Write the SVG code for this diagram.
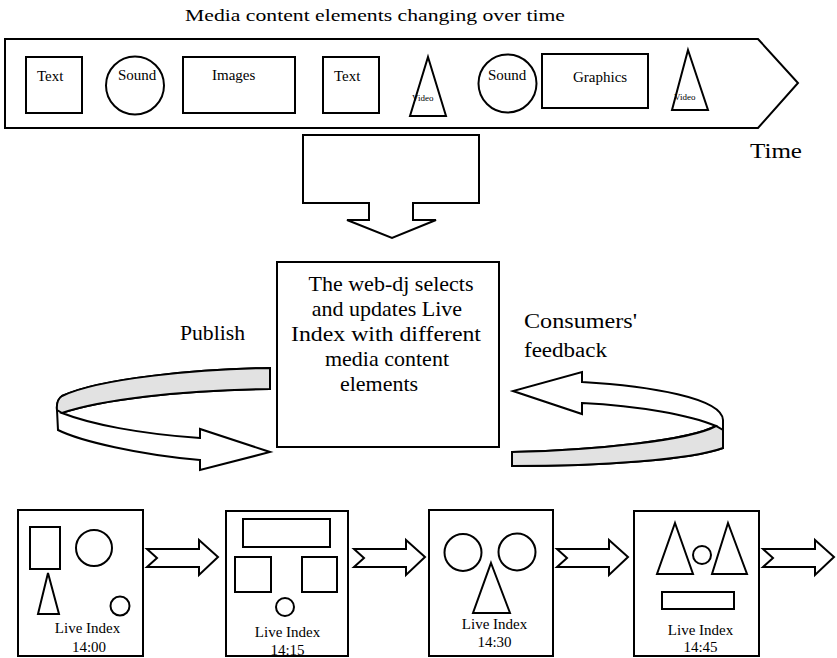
<svg xmlns="http://www.w3.org/2000/svg" width="837" height="658" viewBox="0 0 837 658">
<style>
.s{fill:#fff;stroke:#000;stroke-width:2;stroke-linejoin:miter}
.g{fill:#e2e2e2;stroke:#000;stroke-width:2}
.t{font-family:"Liberation Serif","Times New Roman",serif;fill:#000}
.c{text-anchor:middle}
</style>
<defs>
<path id="chev" d="M0,-8 L52,-8 L52,-17 L71,0 L52,18 L52,10 L0,10 L10,1 Z"/>
</defs>
<rect width="837" height="658" fill="#fff"/>
<text class="t" x="185" y="21" font-size="17" textLength="380" lengthAdjust="spacingAndGlyphs">Media content elements changing over time</text>

<g id="timeline">
<path class="s" d="M5,39 L758,39 L798,83 L758,128 L5,128 Z"/>
<rect class="s" x="26" y="57" width="56" height="56"/>
<text class="t" x="37" y="81" font-size="15">Text</text>
<circle class="s" cx="135" cy="85.5" r="29"/>
<text class="t" x="118" y="80" font-size="15">Sound</text>
<rect class="s" x="183" y="57" width="112" height="56"/>
<text class="t" x="212" y="80" font-size="15">Images</text>
<rect class="s" x="323" y="57" width="56" height="56"/>
<text class="t" x="334" y="81" font-size="15">Text</text>
<path class="s" d="M428,57 L446,116 L410,116 Z"/>
<text class="t" x="412" y="101" font-size="9">Video</text>
<circle class="s" cx="507.5" cy="83.5" r="29"/>
<text class="t" x="488" y="80" font-size="15">Sound</text>
<rect class="s" x="542" y="54" width="106" height="54"/>
<text class="t" x="573" y="82" font-size="15">Graphics</text>
<path class="s" d="M688,50 L708,110 L672,110 Z"/>
<text class="t" x="674" y="100" font-size="9">Video</text>
</g>
<text class="t" x="750" y="158" font-size="21" textLength="52" lengthAdjust="spacingAndGlyphs">Time</text>

<g id="down-arrow">
<path class="s" d="M303,135 L479,135 L479,203 L413,203 L413,220 L436,220 L392,238 L347,220 L369,220 L369,203 L303,203 Z"/>
</g>

<g id="webdj">
<rect class="s" x="277" y="262" width="222" height="185"/>
<text class="t c" x="391" y="291" font-size="22">The web-dj selects</text>
<text class="t c" x="387" y="316" font-size="22">and updates Live</text>
<text class="t c" x="386" y="341" font-size="22" textLength="190" lengthAdjust="spacingAndGlyphs">Index with different</text>
<text class="t c" x="387" y="366" font-size="22">media content</text>
<text class="t c" x="379" y="391" font-size="22">elements</text>
</g>

<g id="connectors">
<g id="publish">
<path class="s" d="M270,368 C200,369 100,378 62,396 Q56,400 57,410 L58,430 C80,441 140,455 200,460 L200,470 L270,452 L200,429 L200,438 C140,434 90,424 62,413 C100,400 180,390 270,389 Z"/>
<path class="g" d="M270,368 C200,369 100,378 62,396 Q56,400 57,410 L62,413 C100,400 180,390 270,389 Z"/>
</g>
<g id="feedback">
<path class="s" d="M582,382 C650,386 722,398 723,420 L723,448 C690,460 600,466 512,466 L512,452 C600,450 690,440 716,426 C690,415 640,406 582,403 L582,414 L513,391 L582,372 Z"/>
<path class="g" d="M716,426 C690,440 600,450 512,452 L512,466 C600,466 690,460 723,448 L723,430 Z"/>
</g>
<use href="#chev" class="s" x="147" y="557"/>
<use href="#chev" class="s" x="354" y="557"/>
<use href="#chev" class="s" x="557" y="557"/>
<use href="#chev" class="s" x="763" y="557"/>
</g>
<text class="t" x="180" y="340" font-size="20" textLength="65" lengthAdjust="spacingAndGlyphs">Publish</text>
<text class="t" x="524" y="328" font-size="20" textLength="113" lengthAdjust="spacingAndGlyphs">Consumers'</text>
<text class="t" x="524" y="357" font-size="20" textLength="83" lengthAdjust="spacingAndGlyphs">feedback</text>

<g id="index1400">
<rect class="s" x="18" y="510" width="125" height="146"/>
<rect class="s" x="30" y="527" width="30" height="42"/>
<circle class="s" cx="94" cy="548" r="18"/>
<path class="s" d="M48,573 L59,614 L38,614 Z"/>
<circle class="s" cx="120" cy="606" r="9.5"/>
<text class="t c" x="87.5" y="633" font-size="15">Live Index</text>
<text class="t c" x="89" y="652" font-size="15">14:00</text>
</g>
<g id="index1415">
<rect class="s" x="226" y="511" width="122" height="145"/>
<rect class="s" x="243" y="519" width="87" height="28"/>
<rect class="s" x="235" y="557" width="36" height="35"/>
<rect class="s" x="302" y="557" width="35" height="35"/>
<circle class="s" cx="285" cy="607" r="9"/>
<text class="t c" x="287.5" y="637" font-size="15">Live Index</text>
<text class="t c" x="287.5" y="655" font-size="15">14:15</text>
</g>
<g id="index1430">
<rect class="s" x="429" y="510" width="124" height="146"/>
<circle class="s" cx="463" cy="552.5" r="18.5"/>
<circle class="s" cx="517" cy="552" r="18.5"/>
<path class="s" d="M491,563 L510,613 L473,613 Z"/>
<text class="t c" x="494.5" y="629" font-size="15">Live Index</text>
<text class="t c" x="494.5" y="647" font-size="15">14:30</text>
</g>
<g id="index1445">
<rect class="s" x="634" y="511" width="125" height="145"/>
<path class="s" d="M675,523 L693,574 L657,574 Z"/>
<circle class="s" cx="702" cy="555" r="9"/>
<path class="s" d="M728,523 L747,574 L712,574 Z"/>
<rect class="s" x="662" y="592" width="72" height="17"/>
<text class="t c" x="700.5" y="635" font-size="15">Live Index</text>
<text class="t c" x="700.5" y="652" font-size="15">14:45</text>
</g>
</svg>
